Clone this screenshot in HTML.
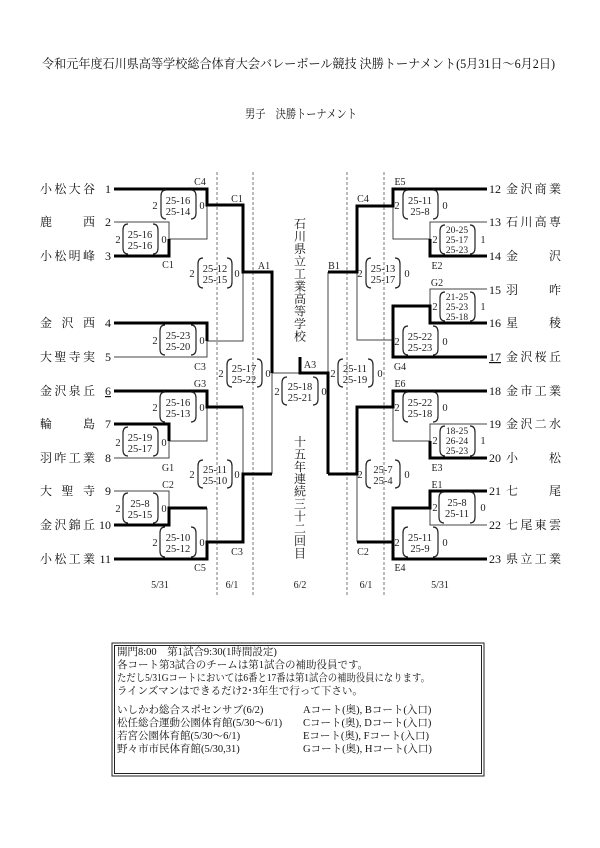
<!DOCTYPE html>
<html><head><meta charset="utf-8"><style>
html,body{margin:0;padding:0;background:#fff;}
svg{display:block;font-family:"Liberation Serif","Noto Serif CJK SC",serif;}
.t{stroke:#444;stroke-width:1;fill:none}
.k{stroke:#000;stroke-width:3;fill:none}
.d{stroke:#777;stroke-width:1;stroke-dasharray:3,2;fill:none}
.b{stroke:#222;stroke-width:1.2;fill:none}
.n{font-size:12px;fill:#111}
.s{font-size:10.5px;fill:#222;text-anchor:middle}
.s3{font-size:9.5px;fill:#222;text-anchor:middle}
.l{font-size:10px;fill:#222;text-anchor:middle}
.m{font-size:10.5px;fill:#111}
</style></head><body>
<svg width="600" height="848" viewBox="0 0 600 848" xmlns="http://www.w3.org/2000/svg">
<text x="42" y="68" font-size="12.5" textLength="513" lengthAdjust="spacingAndGlyphs" fill="#111">令和元年度石川県高等学校総合体育大会バレーボール競技 決勝トーナメント(5月31日～6月2日)</text>
<text x="245" y="118" font-size="12" textLength="112" lengthAdjust="spacingAndGlyphs" fill="#111">男子　決勝トーナメント</text>

<path class="d" d="M217,172V595M253,172V595M347,172V595M384,172V595"/>

<path class="t" d="M114,222H169V239H207V205M114,357H207V341H243V272M114,458H169V441H207V407M243,407V474M114,491H169V508M207,508V542M272,373V474M272,373H300M328,272V373M357,272V340H393M487,222H430V239H393V206M487,289H430V306M487,424H430V441H393V407M487,525H430V508M357,474V542"/>
<path class="k" d="M114,189H207V205H243V272H272V373M114,256H169V239M114,323H207V341M114,391H207V407H243M114,424H169V441M114,525H169V508H207M114,559H207V542H243V474H272M300,357V373H328V474M487,189H393V206H357V272H328M487,256H430V239M487,323H430V306H393V340M487,357H393V340M487,391H393V407H357V474H328M487,458H430V441M487,491H430V508H393V542M487,559H393V542H357"/>

<path class="b" d="
M166,190Q161,190 161,196V213Q161,219 166,219M191,190Q196,190 196,196V213Q196,219 191,219
M128,224Q123,224 123,230V248Q123,254 128,254M153,224Q158,224 158,230V248Q158,254 153,254
M203,258Q198,258 198,264V282Q198,288 203,288M227,258Q232,258 232,264V282Q232,288 227,288
M165,325Q160,325 160,331V349Q160,355 165,355M191,325Q196,325 196,331V349Q196,355 191,355
M232,359Q227,359 227,365V381Q227,387 232,387M257,359Q262,359 262,365V381Q262,387 257,387
M165,392Q160,392 160,398V416Q160,422 165,422M191,392Q196,392 196,398V416Q196,422 191,422
M128,427Q123,427 123,433V450Q123,456 128,456M153,427Q158,427 158,433V450Q158,456 153,456
M203,460Q198,460 198,466V482Q198,488 203,488M227,460Q232,460 232,466V482Q232,488 227,488
M128,493Q123,493 123,499V517Q123,523 128,523M153,493Q158,493 158,499V517Q158,523 153,523
M165,527Q160,527 160,533V551Q160,557 165,557M191,527Q196,527 196,533V551Q196,557 191,557
M287,377Q282,377 282,383V399Q282,405 287,405M313,377Q318,377 318,383V399Q318,405 313,405
M408,190Q403,190 403,196V213Q403,219 408,219M433,190Q438,190 438,196V213Q438,219 433,219
M445,225Q440,225 440,231V248Q440,254 445,254M470,225Q475,225 475,231V248Q475,254 470,254
M371,258Q366,258 366,264V282Q366,288 371,288M395,258Q400,258 400,264V282Q400,288 395,288
M445,292Q440,292 440,298V315Q440,321 445,321M470,292Q475,292 475,298V315Q475,321 470,321
M408,326Q403,326 403,332V349Q403,355 408,355M433,326Q438,326 438,332V349Q438,355 433,355
M343,359Q338,359 338,365V381Q338,387 343,387M368,359Q373,359 373,365V381Q373,387 368,387
M408,392Q403,392 403,398V416Q403,422 408,422M433,392Q438,392 438,398V416Q438,422 433,422
M445,426Q440,426 440,432V450Q440,456 445,456M470,426Q475,426 475,432V450Q475,456 470,456
M371,460Q366,460 366,466V482Q366,488 371,488M395,460Q400,460 400,466V482Q400,488 395,488
M444,492Q439,492 439,498V517Q439,523 444,523M470,492Q475,492 475,498V517Q475,523 470,523
M408,527Q403,527 403,533V551Q403,557 408,557M433,527Q438,527 438,533V551Q438,557 433,557"/>

<g class="s">
<text x="178" y="204">25-16</text><text x="178" y="215">25-14</text><text x="155" y="209">2</text><text x="202" y="209">0</text>
<text x="140" y="238">25-16</text><text x="140" y="249">25-16</text><text x="118" y="243">2</text><text x="164" y="243">0</text>
<text x="215" y="272">25-12</text><text x="215" y="283">25-15</text><text x="192" y="277">2</text><text x="237" y="277">0</text>
<text x="178" y="339">25-23</text><text x="178" y="350">25-20</text><text x="155" y="344">2</text><text x="202" y="344">0</text>
<text x="244" y="372">25-17</text><text x="244" y="383">25-22</text><text x="221" y="377">2</text><text x="268" y="377">0</text>
<text x="178" y="406">25-16</text><text x="178" y="417">25-13</text><text x="155" y="411">2</text><text x="202" y="411">0</text>
<text x="140" y="441">25-19</text><text x="140" y="452">25-17</text><text x="118" y="446">2</text><text x="164" y="446">0</text>
<text x="215" y="473">25-11</text><text x="215" y="484">25-10</text><text x="192" y="478">2</text><text x="237" y="478">0</text>
<text x="140" y="507">25-8</text><text x="140" y="518">25-15</text><text x="118" y="512">2</text><text x="164" y="512">0</text>
<text x="178" y="541">25-10</text><text x="178" y="552">25-12</text><text x="155" y="546">2</text><text x="202" y="546">0</text>
<text x="300" y="390">25-18</text><text x="300" y="401">25-21</text><text x="277" y="395">2</text><text x="324" y="395">0</text>
<text x="420" y="204">25-11</text><text x="420" y="215">25-8</text><text x="397" y="209">2</text><text x="445" y="209">0</text>
<text x="383" y="272">25-13</text><text x="383" y="283">25-17</text><text x="360" y="277">2</text><text x="407" y="277">0</text>
<text x="420" y="340">25-22</text><text x="420" y="351">25-23</text><text x="397" y="345">2</text><text x="445" y="345">0</text>
<text x="355" y="372">25-11</text><text x="355" y="383">25-19</text><text x="333" y="377">2</text><text x="380" y="377">0</text>
<text x="420" y="406">25-22</text><text x="420" y="417">25-18</text><text x="397" y="411">2</text><text x="445" y="411">0</text>
<text x="383" y="473">25-7</text><text x="383" y="484">25-4</text><text x="360" y="478">2</text><text x="407" y="478">0</text>
<text x="457" y="506">25-8</text><text x="457" y="517">25-11</text><text x="435" y="511">2</text><text x="483" y="511">0</text>
<text x="420" y="541">25-11</text><text x="420" y="552">25-9</text><text x="397" y="546">2</text><text x="445" y="546">0</text>
<text x="435" y="243">2</text><text x="483" y="243">1</text>
<text x="435" y="310">2</text><text x="483" y="310">1</text>
<text x="435" y="444">2</text><text x="483" y="444">1</text>
</g>
<g class="s3">
<text x="457" y="233">20-25</text><text x="457" y="243">25-17</text><text x="457" y="253">25-23</text>
<text x="457" y="300">21-25</text><text x="457" y="310">25-23</text><text x="457" y="320">25-18</text>
<text x="457" y="434">18-25</text><text x="457" y="444">26-24</text><text x="457" y="454">25-23</text>
</g>

<g class="l">
<text x="200" y="185">C4</text><text x="237" y="202">C1</text><text x="168" y="268">C1</text><text x="264" y="269">A1</text>
<text x="200" y="370">C3</text><text x="200" y="387">G3</text><text x="168" y="471">G1</text><text x="168" y="488">C2</text>
<text x="237" y="555">C3</text><text x="200" y="571">C5</text>
<text x="400" y="185">E5</text><text x="363" y="202">C4</text><text x="437" y="269">E2</text><text x="334" y="269">B1</text>
<text x="437" y="286">G2</text><text x="400" y="370">G4</text><text x="310" y="368">A3</text>
<text x="400" y="387">E6</text><text x="437" y="471">E3</text><text x="437" y="488">E1</text><text x="363" y="555">C2</text><text x="400" y="571">E4</text>
<text x="160" y="588">5/31</text><text x="232" y="588">6/1</text><text x="300" y="588">6/2</text><text x="366" y="588">6/1</text><text x="440" y="588">5/31</text>
</g>

<g class="n">
<text x="40" y="193" textLength="55" lengthAdjust="spacing">小松大谷</text>
<text x="40" y="226" textLength="55" lengthAdjust="spacing">鹿西</text>
<text x="40" y="260" textLength="55" lengthAdjust="spacing">小松明峰</text>
<text x="40" y="327" textLength="55" lengthAdjust="spacing">金沢西</text>
<text x="40" y="361" textLength="55" lengthAdjust="spacing">大聖寺実</text>
<text x="40" y="395" textLength="55" lengthAdjust="spacing">金沢泉丘</text>
<text x="40" y="428" textLength="55" lengthAdjust="spacing">輪島</text>
<text x="40" y="462" textLength="55" lengthAdjust="spacing">羽咋工業</text>
<text x="40" y="495" textLength="55" lengthAdjust="spacing">大聖寺</text>
<text x="40" y="529" textLength="55" lengthAdjust="spacing">金沢錦丘</text>
<text x="40" y="563" textLength="55" lengthAdjust="spacing">小松工業</text>
</g>
<g class="n" text-anchor="end" font-size="11">
<text x="111" y="193">1</text><text x="111" y="226">2</text><text x="111" y="260">3</text><text x="111" y="327">4</text><text x="111" y="361">5</text><text x="111" y="395" text-decoration="underline">6</text><text x="111" y="428">7</text><text x="111" y="462">8</text><text x="111" y="495">9</text><text x="111" y="529">10</text><text x="111" y="563">11</text>
</g>
<g class="n" font-size="11">
<text x="489" y="193">12</text><text x="489" y="226">13</text><text x="489" y="260">14</text><text x="489" y="294">15</text><text x="489" y="327">16</text><text x="489" y="361" text-decoration="underline">17</text><text x="489" y="395">18</text><text x="489" y="428">19</text><text x="489" y="462">20</text><text x="489" y="495">21</text><text x="489" y="529">22</text><text x="489" y="563">23</text>
</g>
<g class="n">
<text x="506" y="193" textLength="55" lengthAdjust="spacing">金沢商業</text>
<text x="506" y="226" textLength="55" lengthAdjust="spacing">石川高専</text>
<text x="506" y="260" textLength="55" lengthAdjust="spacing">金沢</text>
<text x="506" y="294" textLength="55" lengthAdjust="spacing">羽咋</text>
<text x="506" y="327" textLength="55" lengthAdjust="spacing">星稜</text>
<text x="506" y="361" textLength="55" lengthAdjust="spacing">金沢桜丘</text>
<text x="506" y="395" textLength="55" lengthAdjust="spacing">金市工業</text>
<text x="506" y="428" textLength="55" lengthAdjust="spacing">金沢二水</text>
<text x="506" y="462" textLength="55" lengthAdjust="spacing">小松</text>
<text x="506" y="495" textLength="55" lengthAdjust="spacing">七尾</text>
<text x="506" y="529" textLength="55" lengthAdjust="spacing">七尾東雲</text>
<text x="506" y="563" textLength="55" lengthAdjust="spacing">県立工業</text>
</g>

<g font-size="12" fill="#111" text-anchor="middle">
<text x="300" y="228">石</text><text x="300" y="240.5">川</text><text x="300" y="253">県</text><text x="300" y="265.5">立</text><text x="300" y="278">工</text><text x="300" y="290.5">業</text><text x="300" y="303">高</text><text x="300" y="315.5">等</text><text x="300" y="328">学</text><text x="300" y="340.5">校</text>
<text x="300" y="446">十</text><text x="300" y="458.4">五</text><text x="300" y="470.8">年</text><text x="300" y="483.2">連</text><text x="300" y="495.6">続</text><text x="300" y="508">三</text><text x="300" y="520.4">十</text><text x="300" y="532.8">二</text><text x="300" y="545.2">回</text><text x="300" y="557.6">目</text>
</g>

<rect x="112" y="643" width="372" height="133" fill="none" stroke="#222" stroke-width="1"/>
<rect x="114.5" y="645.5" width="367" height="128" fill="none" stroke="#222" stroke-width="1"/>
<g class="m">
<text x="117" y="655">開門8:00　第1試合9:30(1時間設定)</text>
<text x="117" y="668">各コート第3試合のチームは第1試合の補助役員です。</text>
<text x="117" y="681" textLength="313" lengthAdjust="spacingAndGlyphs">ただし5/31Gコートにおいては6番と17番は第1試合の補助役員になります。</text>
<text x="117" y="694">ラインズマンはできるだけ2･3年生で行って下さい。</text>
<text x="117" y="713">いしかわ総合スポセンサブ(6/2)</text>
<text x="117" y="726">松任総合運動公園体育館(5/30～6/1)</text>
<text x="117" y="739">若宮公園体育館(5/30～6/1)</text>
<text x="117" y="752">野々市市民体育館(5/30,31)</text>
<text x="303" y="713">Aコート(奥), Bコート(入口)</text>
<text x="303" y="726">Cコート(奥), Dコート(入口)</text>
<text x="303" y="739">Eコート(奥), Fコート(入口)</text>
<text x="303" y="752">Gコート(奥), Hコート(入口)</text>
</g>
</svg>
</body></html>
